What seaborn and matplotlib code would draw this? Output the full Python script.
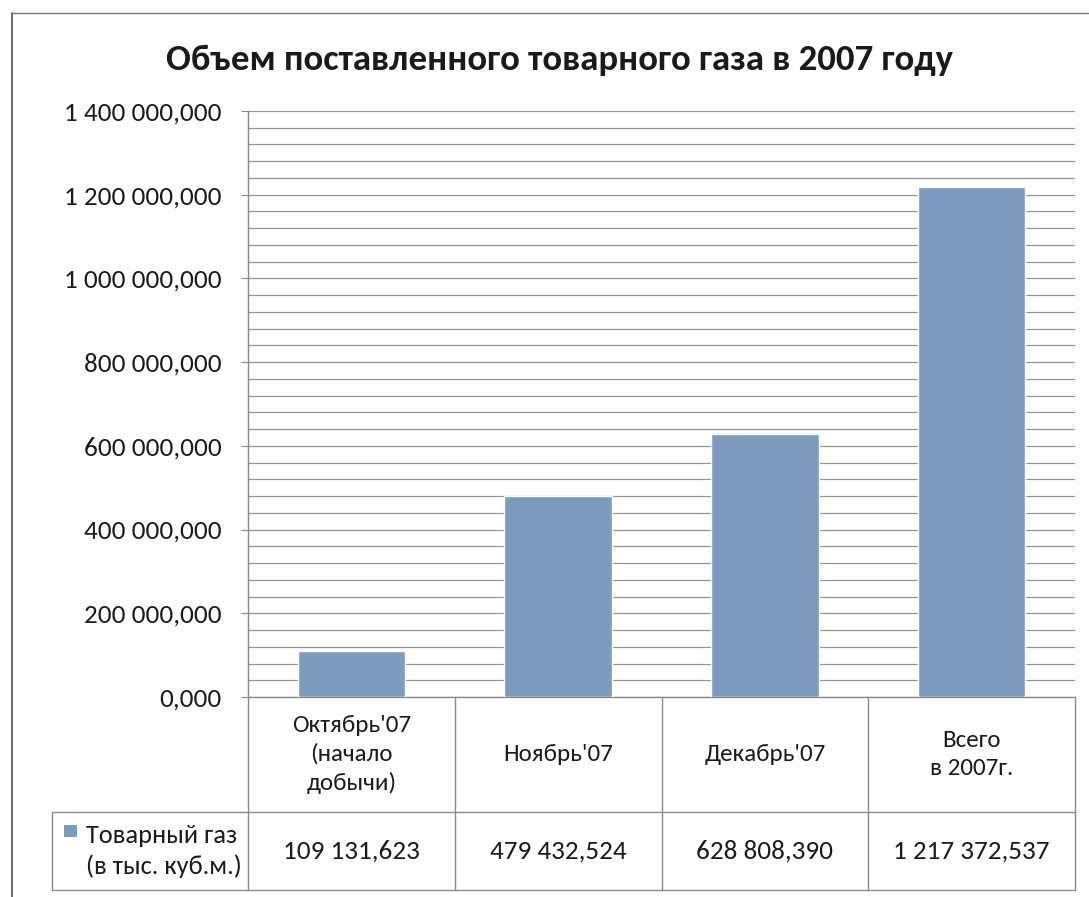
import matplotlib
matplotlib.use("Agg")
import matplotlib.pyplot as plt
import matplotlib.transforms as mtransforms
from matplotlib.ticker import FuncFormatter, MultipleLocator
from matplotlib.patches import Rectangle
from matplotlib.lines import Line2D
import seaborn as sns
import pandas as pd

# ---- data ----
categories = ["Октябрь'07\n(начало\nдобычи)", "Ноябрь'07", "Декабрь'07", "Всего\nв 2007г."]
values = [109131.623, 479432.524, 628808.390, 1217372.537]
series_name = "Товарный газ\n(в тыс. куб.м.)"
title = "Объем поставленного товарного газа в 2007 году"
y_max = 1400000
y_major = 200000
y_minor = 40000

sns.set_theme(style="white")
FONT = ["Carlito", "Liberation Sans Narrow", "Noto Sans", "DejaVu Sans"]
import matplotlib.font_manager as fm
avail = {f.name for f in fm.fontManager.ttflist}
FONT = [f for f in FONT if f in avail] or ["DejaVu Sans"]
plt.rcParams["font.family"] = FONT

BAR = "#7c9cbf"
GRID = "#959595"
LINE = "#8a8a8a"
TXT = "#1a1a1a"

def ru_fmt(v, pos=None):
    s = f"{v:,.3f}"
    return s.replace(",", " ").replace(".", ",")

W, H = 1089, 897
fig = plt.figure(figsize=(W / 100, H / 100), dpi=100)
ax = fig.add_axes([248 / W, 1 - 697 / H, (1075 - 248) / W, (697 - 111) / H])

df = pd.DataFrame({"cat": categories, "val": values})
sns.barplot(data=df, x="cat", y="val", color=BAR, saturation=1, width=0.52, ax=ax, zorder=3)

ax.set_xlim(-0.5, len(categories) - 0.5)
ax.set_ylim(0, y_max)
ax.yaxis.set_major_locator(MultipleLocator(y_major))
ax.yaxis.set_minor_locator(MultipleLocator(y_minor))
ax.yaxis.set_major_formatter(FuncFormatter(ru_fmt))
ax.grid(True, which="both", axis="y", color=GRID, lw=0.9, zorder=0)
ax.set_axisbelow(True)
ax.set_xlabel("")
ax.set_ylabel("")
ax.set_xticks([])
for s in ["top", "right", "bottom"]:
    ax.spines[s].set_visible(False)
ax.spines["left"].set_color(LINE)
ax.spines["left"].set_linewidth(1.0)
ax.tick_params(axis="y", which="major", left=True, length=5, width=0.8, color=LINE,
               labelsize=19.5, labelcolor=TXT, pad=14)
ax.tick_params(axis="y", which="minor", left=False)
for lbl in ax.get_yticklabels():
    lbl.set_va("center_baseline")

# ---- data table ----
tr = mtransforms.blended_transform_factory(ax.transData, ax.transAxes)
axh = 697 - 111
hdr_h = (812 - 697) / axh
row_h = (890 - 812) / axh
y_hdr_top, y_hdr_bot = 0.0, -hdr_h
y_row_bot = -hdr_h - row_h
n = len(categories)
leg_left = -0.5 - (248 - 52) / ((1075 - 248) / n)

def hline(x0, x1, y):
    ax.add_line(Line2D([x0, x1], [y, y], transform=tr, color=LINE, lw=1.0, clip_on=False))

def vline(x, y0, y1):
    ax.add_line(Line2D([x, x], [y0, y1], transform=tr, color=LINE, lw=1.0, clip_on=False))

hline(-0.5, n - 0.5, y_hdr_top)
hline(leg_left, n - 0.5, y_hdr_bot)
hline(leg_left, n - 0.5, y_row_bot)
for i in range(n + 1):
    vline(i - 0.5, y_row_bot, y_hdr_top)
vline(leg_left, y_row_bot, y_hdr_bot)

for i, (c, v) in enumerate(zip(categories, values)):
    ax.text(i, y_hdr_bot / 2, c, transform=tr, ha="center", va="center",
            fontsize=18, color=TXT, linespacing=1.42)
    ax.text(i, (y_hdr_bot + y_row_bot) / 2, ru_fmt(v), transform=tr, ha="center",
            va="center", fontsize=19.5, color=TXT)

# legend cell
ax.add_patch(Rectangle((leg_left + 0.06, (y_hdr_bot + y_row_bot) / 2 + 0.024), 0.06, 0.02,
                       transform=tr, facecolor=BAR, edgecolor="none", clip_on=False))
ax.text(leg_left + 0.165, (y_hdr_bot + y_row_bot) / 2, series_name, transform=tr,
        ha="left", va="center", fontsize=19, color=TXT, linespacing=1.4)

# title
fig.text(559 / W, 1 - 60 / H, title, ha="center", va="center", fontsize=26.5,
         fontweight="bold", color=TXT)

# outer chart frame (left and top)
fig.add_artist(Line2D([12 / W, 12 / W], [0, 1 - 13 / H], transform=fig.transFigure,
                      color="#555555", lw=1.2))
fig.add_artist(Line2D([12 / W, 1], [1 - 13 / H, 1 - 13 / H], transform=fig.transFigure,
                      color="#777777", lw=1.0))

fig.savefig("out.png", dpi=100, facecolor="white")
